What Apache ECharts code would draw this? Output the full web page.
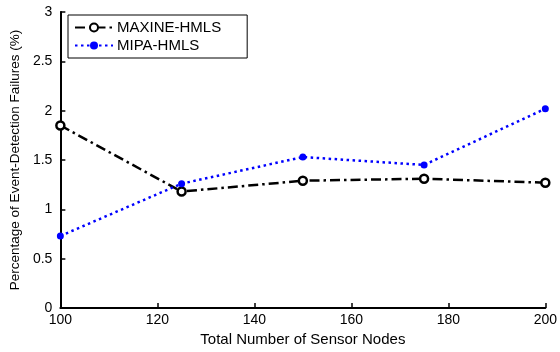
<!DOCTYPE html>
<html><head><meta charset="utf-8">
<script src="https://cdn.jsdelivr.net/npm/echarts@6/dist/echarts.min.js"></script>
<style>html,body{margin:0;padding:0;background:#fff}#c{width:560px;height:352px}</style>
</head><body><div id="c"></div>
<script>
const nodes = [100, 125, 150, 175, 200];
const maxine = [1.85, 1.18, 1.29, 1.31, 1.27];
const mipa = [0.73, 1.26, 1.53, 1.45, 2.02];
const seriesNames = ['MAXINE-HMLS', 'MIPA-HMLS'];
const xTitle = 'Total Number of Sensor Nodes';
const yTitle = 'Percentage of Event-Detection Failures (%)';

const font = 'Liberation Sans, Arial, sans-serif';
const chart = echarts.init(document.getElementById('c'), null, {renderer: 'canvas'});
chart.setOption({
  animation: false,
  backgroundColor: '#fff',
  grid: {left: 59, right: 13, top: 12, bottom: 43},
  legend: {
    left: 68, top: 15, orient: 'vertical',
    itemWidth: 38, itemHeight: 10, itemGap: 3,
    padding: [5, 26, 5, 6],
    borderColor: '#000', borderWidth: 1,
    textStyle: {fontFamily: font, fontSize: 15, color: '#000', padding: [0, 0, 0, -1]},
    data: seriesNames
  },
  xAxis: {
    type: 'value', min: 100, max: 200, interval: 20,
    name: xTitle, nameLocation: 'middle', nameGap: 24,
    nameTextStyle: {fontFamily: font, fontSize: 15, color: '#000'},
    axisLine: {lineStyle: {color: '#000', width: 2}},
    axisTick: {inside: true, length: 5, lineStyle: {color: '#000', width: 1.5}},
    axisLabel: {fontFamily: font, fontSize: 14, color: '#000', margin: 5},
    splitLine: {show: false}
  },
  yAxis: {
    type: 'value', min: 0, max: 3, interval: 0.5,
    name: yTitle, nameLocation: 'middle', nameGap: 35,
    nameTextStyle: {fontFamily: font, fontSize: 13.5, color: '#000'},
    axisLine: {show: true, lineStyle: {color: '#000', width: 2}},
    axisTick: {show: true, inside: true, length: 5, lineStyle: {color: '#000', width: 1.5}},
    axisLabel: {fontFamily: font, fontSize: 14, color: '#000', margin: 8},
    splitLine: {show: false}
  },
  series: [
    {
      name: seriesNames[0], type: 'line',
      data: nodes.map((x, i) => [x, maxine[i]]),
      symbol: 'circle', symbolSize: 8,
      itemStyle: {color: '#fff', borderColor: '#000', borderWidth: 2.5},
      lineStyle: {color: '#000', width: 2.5, type: [10, 4, 2.5, 4]},
      z: 3
    },
    {
      name: seriesNames[1], type: 'line',
      data: nodes.map((x, i) => [x, mipa[i]]),
      symbol: 'circle', symbolSize: 7,
      itemStyle: {color: '#0000ff', borderColor: '#0000ff', borderWidth: 0},
      lineStyle: {color: '#0000ff', width: 2.5, type: [2.5, 3.5]},
      z: 4
    }
  ]
});
</script></body></html>
